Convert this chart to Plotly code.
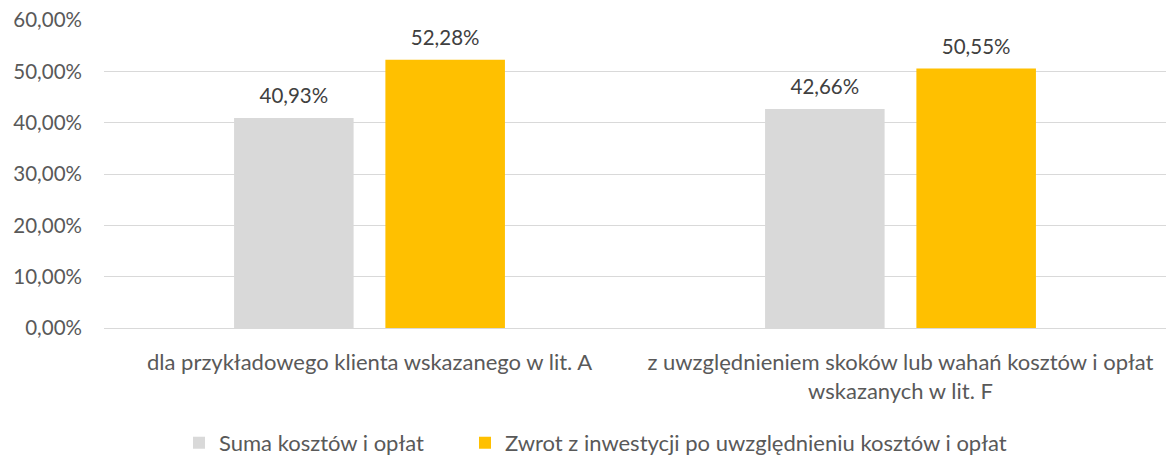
import plotly.graph_objects as go

categories = [
    "dla przykładowego klienta wskazanego w lit. A",
    "z uwzględnieniem skoków lub wahań kosztów i opłat<br>wskazanych w lit. F",
]
series_names = ["Suma kosztów i opłat", "Zwrot z inwestycji po uwzględnieniu kosztów i opłat"]
costs = [0.4093, 0.4266]
returns = [0.5228, 0.5055]
colors = ["#D9D9D9", "#FFC000"]
y_ticks = [0, 0.1, 0.2, 0.3, 0.4, 0.5, 0.6]

FONT = "Lato"
TXT = "#595959"

legend_ids = ["legend", "legend2"]

fig = go.Figure()
for i, (name, vals, col) in enumerate(zip(series_names, [costs, returns], colors)):
    fig.add_trace(go.Bar(
        x=categories, y=vals, name=name, marker_color=col,
        marker_line_width=0, offsetgroup=str(i), textposition="none",
        legend=legend_ids[i],
    ))
for i, vals in enumerate([costs, returns]):
    fig.add_trace(go.Scatter(
        x=categories, y=vals, mode="text+markers", offsetgroup=str(i),
        marker=dict(size=14, opacity=0), showlegend=False, hoverinfo="skip",
        texttemplate="%{y:.2%}", textposition="top center",
        textfont=dict(family=FONT, size=20.5, color="#404040"),
        cliponaxis=False,
    ))

legend_common = dict(orientation="h", xanchor="left",
                     yref="container", y=0.035, yanchor="middle",
                     font=dict(family=FONT, size=22, color=TXT),
                     itemwidth=30, bgcolor="rgba(0,0,0,0)")

fig.update_layout(
    width=1168, height=459,
    margin=dict(l=104, r=2, t=20, b=131),
    paper_bgcolor="white", plot_bgcolor="white",
    separators=", ",
    barmode="group", bargap=0.43, bargroupgap=0.21,
    scattermode="group", scattergap=0.43,
    font=dict(family=FONT, size=22, color=TXT),
    showlegend=True,
    legend=dict(xref="container", x=179 / 1168, **legend_common),
    legend2=dict(xref="container", x=465 / 1168, **legend_common),
    xaxis=dict(showline=False, ticks="", automargin=False, ticklabelstandoff=19,
               tickfont=dict(family=FONT, size=22, color=TXT)),
    yaxis=dict(range=[0, 0.6], tickvals=y_ticks, tickformat=".2%",
               showgrid=True, gridcolor="#D9D9D9", gridwidth=1,
               zeroline=True, zerolinecolor="#D9D9D9", zerolinewidth=1,
               showline=False, ticks="", ticklabelstandoff=21, automargin=False,
               tickfont=dict(family=FONT, size=20.5, color=TXT)),
)

fig.write_html("out.html", config={"displayModeBar": False},
               post_script="document.body.style.margin='0';document.body.style.overflow='hidden';")
